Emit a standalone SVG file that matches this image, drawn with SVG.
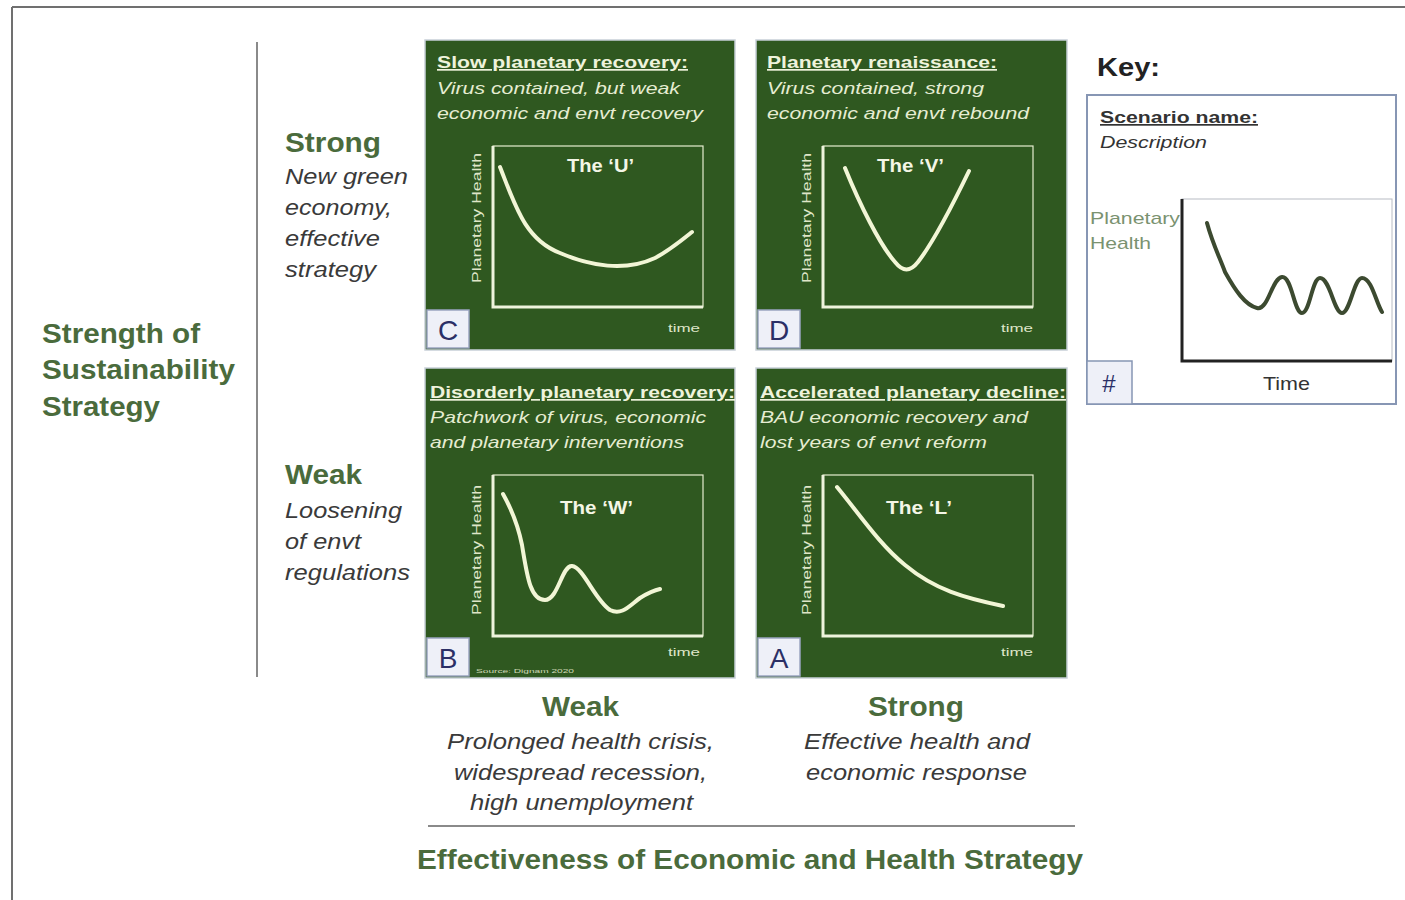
<svg xmlns="http://www.w3.org/2000/svg" width="1405" height="900" viewBox="0 0 1405 900">
<style>
.panel{fill:#2f5820;stroke:#c8d0d8;stroke-width:1.5}
.ttl{font-family:"Liberation Sans",Arial,sans-serif;font-weight:bold;font-size:17px;fill:#eef3dc;text-decoration:underline}
.desc{font-family:"Liberation Sans",Arial,sans-serif;font-style:italic;font-size:17px;fill:#e6edd2}
.chart{fill:none;stroke:#e6edd0;stroke-width:1.2}
.axis{fill:none;stroke:#eef3dc;stroke-width:3}
.curve{fill:none;stroke:#f2f6d6;stroke-width:4;stroke-linecap:round;stroke-linejoin:round}
.shape{font-family:"Liberation Sans",Arial,sans-serif;font-weight:bold;font-size:19px;fill:#f4f6e6}
.ylab{font-family:"Liberation Sans",Arial,sans-serif;font-size:13px;fill:#dfe6c8;text-anchor:middle}
.tlab{font-family:"Liberation Sans",Arial,sans-serif;font-size:11px;fill:#dfe6c8}
.lbox{fill:#eef0f8;stroke:#9aa4c0;stroke-width:1.5}
.ltr{font-family:"Liberation Sans",Arial,sans-serif;font-size:28px;fill:#2b2f66;text-anchor:middle}
.head{font-family:"Liberation Sans",Arial,sans-serif;font-weight:bold;font-size:27px;fill:#4a6b3c}
.it{font-family:"Liberation Sans",Arial,sans-serif;font-style:italic;font-size:22px;fill:#3a3a3a}
</style>
<rect x="0" y="0" width="1405" height="900" fill="#ffffff"/>
<g id="frame" fill="none" stroke="#707070" stroke-width="2">
<line x1="12" y1="7" x2="1405" y2="7"/>
<line x1="12" y1="7" x2="12" y2="900"/>
</g>
<g id="y-axis">
<line x1="257" y1="42" x2="257" y2="677" stroke="#8a8a8a" stroke-width="2"/>
<text class="head" x="42" y="343" textLength="158" lengthAdjust="spacingAndGlyphs">Strength of</text>
<text class="head" x="42" y="379" textLength="193" lengthAdjust="spacingAndGlyphs">Sustainability</text>
<text class="head" x="42" y="416" textLength="118" lengthAdjust="spacingAndGlyphs">Strategy</text>
</g>
<g id="y-strong">
<text class="head" x="285" y="152" textLength="96" lengthAdjust="spacingAndGlyphs">Strong</text>
<text class="it" x="285" y="184" textLength="123" lengthAdjust="spacingAndGlyphs">New green</text>
<text class="it" x="285" y="215" textLength="107" lengthAdjust="spacingAndGlyphs">economy,</text>
<text class="it" x="285" y="246" textLength="95" lengthAdjust="spacingAndGlyphs">effective</text>
<text class="it" x="285" y="277" textLength="91" lengthAdjust="spacingAndGlyphs">strategy</text>
</g>
<g id="y-weak">
<text class="head" x="285" y="484" textLength="77" lengthAdjust="spacingAndGlyphs">Weak</text>
<text class="it" x="285" y="518" textLength="117" lengthAdjust="spacingAndGlyphs">Loosening</text>
<text class="it" x="285" y="549" textLength="76" lengthAdjust="spacingAndGlyphs">of envt</text>
<text class="it" x="285" y="580" textLength="125" lengthAdjust="spacingAndGlyphs">regulations</text>
</g>
<g id="panel-C">
<rect class="panel" x="425" y="40" width="310" height="310"/>
<text class="ttl" x="437" y="68" textLength="251" lengthAdjust="spacingAndGlyphs">Slow planetary recovery:</text>
<text class="desc" x="437" y="94" textLength="243" lengthAdjust="spacingAndGlyphs">Virus contained, but weak</text>
<text class="desc" x="437" y="119" textLength="266" lengthAdjust="spacingAndGlyphs">economic and envt recovery</text>
<rect class="chart" x="493" y="146" width="210" height="161"/>
<polyline class="axis" points="493,146 493,307 703,307"/>
<text class="ylab" transform="translate(481,218) rotate(-90)" x="-65" style="text-anchor:start" textLength="130" lengthAdjust="spacingAndGlyphs">Planetary Health</text>
<text class="shape" x="567" y="172" textLength="67" lengthAdjust="spacingAndGlyphs">The ‘U’</text>
<path class="curve" d="M500,167 C515,205 525,240 560,253 C590,266 625,272 655,258 C670,250 682,240 692,232"/>
<text class="tlab" x="668" y="332" textLength="32" lengthAdjust="spacingAndGlyphs">time</text>
<rect class="lbox" x="427" y="310" width="42" height="38"/>
<text class="ltr" x="448" y="340">C</text>
</g>
<g id="panel-D">
<rect class="panel" x="756" y="40" width="311" height="310"/>
<text class="ttl" x="767" y="68" textLength="230" lengthAdjust="spacingAndGlyphs">Planetary renaissance:</text>
<text class="desc" x="767" y="94" textLength="217" lengthAdjust="spacingAndGlyphs">Virus contained, strong</text>
<text class="desc" x="767" y="119" textLength="262" lengthAdjust="spacingAndGlyphs">economic and envt rebound</text>
<rect class="chart" x="823" y="146" width="210" height="161"/>
<polyline class="axis" points="823,146 823,307 1033,307"/>
<text class="ylab" transform="translate(811,218) rotate(-90)" x="-65" style="text-anchor:start" textLength="130" lengthAdjust="spacingAndGlyphs">Planetary Health</text>
<text class="shape" x="877" y="172" textLength="67" lengthAdjust="spacingAndGlyphs">The ‘V’</text>
<path class="curve" d="M845,168 C860,205 880,245 895,262 C903,272 910,272 918,262 C935,240 955,200 969,171"/>
<text class="tlab" x="1001" y="332" textLength="32" lengthAdjust="spacingAndGlyphs">time</text>
<rect class="lbox" x="758" y="310" width="42" height="38"/>
<text class="ltr" x="779" y="340">D</text>
</g>
<g id="panel-B">
<rect class="panel" x="425" y="368" width="310" height="310"/>
<text class="ttl" x="430" y="398" textLength="305" lengthAdjust="spacingAndGlyphs">Disorderly planetary recovery:</text>
<text class="desc" x="430" y="423" textLength="276" lengthAdjust="spacingAndGlyphs">Patchwork of virus, economic</text>
<text class="desc" x="430" y="448" textLength="254" lengthAdjust="spacingAndGlyphs">and planetary interventions</text>
<rect class="chart" x="493" y="475" width="210" height="161"/>
<polyline class="axis" points="493,475 493,636 703,636"/>
<text class="ylab" transform="translate(481,550) rotate(-90)" x="-65" style="text-anchor:start" textLength="130" lengthAdjust="spacingAndGlyphs">Planetary Health</text>
<text class="shape" x="560" y="514" textLength="73" lengthAdjust="spacingAndGlyphs">The ‘W’</text>
<path class="curve" d="M503,494 C512,510 518,525 522,545 C527,575 530,600 545,600 C558,600 562,565 572,566 C583,567 595,600 610,610 C622,616 630,605 640,598 C648,593 655,590 660,589"/>
<text class="tlab" x="668" y="656" textLength="32" lengthAdjust="spacingAndGlyphs">time</text>
<text x="476" y="673" font-family="Liberation Sans,Arial,sans-serif" font-size="6px" fill="#cfd8b8" textLength="98" lengthAdjust="spacingAndGlyphs">Source: Dignam 2020</text>
<rect class="lbox" x="427" y="638" width="42" height="38"/>
<text class="ltr" x="448" y="668">B</text>
</g>
<g id="panel-A">
<rect class="panel" x="756" y="368" width="311" height="310"/>
<text class="ttl" x="760" y="398" textLength="306" lengthAdjust="spacingAndGlyphs">Accelerated planetary decline:</text>
<text class="desc" x="760" y="423" textLength="268" lengthAdjust="spacingAndGlyphs">BAU economic recovery and</text>
<text class="desc" x="760" y="448" textLength="227" lengthAdjust="spacingAndGlyphs">lost years of envt reform</text>
<rect class="chart" x="823" y="475" width="210" height="161"/>
<polyline class="axis" points="823,475 823,636 1033,636"/>
<text class="ylab" transform="translate(811,550) rotate(-90)" x="-65" style="text-anchor:start" textLength="130" lengthAdjust="spacingAndGlyphs">Planetary Health</text>
<text class="shape" x="886" y="514" textLength="66" lengthAdjust="spacingAndGlyphs">The ‘L’</text>
<path class="curve" d="M837,487 C860,515 880,545 905,565 C935,590 965,598 1003,606"/>
<text class="tlab" x="1001" y="656" textLength="32" lengthAdjust="spacingAndGlyphs">time</text>
<rect class="lbox" x="758" y="638" width="42" height="38"/>
<text class="ltr" x="779" y="668">A</text>
</g>
<g id="x-weak">
<text class="head" x="542" y="716" textLength="77" lengthAdjust="spacingAndGlyphs">Weak</text>
<text class="it" x="447" y="749" textLength="267" lengthAdjust="spacingAndGlyphs">Prolonged health crisis,</text>
<text class="it" x="454" y="780" textLength="253" lengthAdjust="spacingAndGlyphs">widespread recession,</text>
<text class="it" x="470" y="810" textLength="223" lengthAdjust="spacingAndGlyphs">high unemployment</text>
</g>
<g id="x-strong">
<text class="head" x="868" y="716" textLength="96" lengthAdjust="spacingAndGlyphs">Strong</text>
<text class="it" x="804" y="749" textLength="226" lengthAdjust="spacingAndGlyphs">Effective health and</text>
<text class="it" x="806" y="780" textLength="221" lengthAdjust="spacingAndGlyphs">economic response</text>
</g>
<g id="x-axis">
<line x1="428" y1="826" x2="1075" y2="826" stroke="#8a8a8a" stroke-width="2"/>
<text class="head" x="417" y="869" font-size="26px" textLength="666" lengthAdjust="spacingAndGlyphs">Effectiveness of Economic and Health Strategy</text>
</g>
<g id="key">
<text x="1097" y="76" font-family="Liberation Sans,Arial,sans-serif" font-weight="bold" font-size="25px" fill="#222" textLength="63" lengthAdjust="spacingAndGlyphs">Key:</text>
<rect x="1087" y="95" width="309" height="309" fill="#ffffff" stroke="#8796b4" stroke-width="2"/>
<text x="1100" y="123" font-family="Liberation Sans,Arial,sans-serif" font-weight="bold" font-size="17px" fill="#333" text-decoration="underline" textLength="158" lengthAdjust="spacingAndGlyphs">Scenario name:</text>
<text x="1100" y="148" font-family="Liberation Sans,Arial,sans-serif" font-style="italic" font-size="17px" fill="#333" textLength="107" lengthAdjust="spacingAndGlyphs">Description</text>
<rect x="1182" y="199" width="210" height="162" fill="none" stroke="#b8bcc4" stroke-width="1"/>
<polyline points="1182,199 1182,361 1392,361" fill="none" stroke="#222" stroke-width="3"/>
<text x="1090" y="224" font-family="Liberation Sans,Arial,sans-serif" font-size="17px" fill="#7a9270" textLength="90" lengthAdjust="spacingAndGlyphs">Planetary</text>
<text x="1090" y="249" font-family="Liberation Sans,Arial,sans-serif" font-size="17px" fill="#7a9270" textLength="61" lengthAdjust="spacingAndGlyphs">Health</text>
<path d="M1207,223 C1213,245 1220,258 1225,272 C1235,290 1245,305 1257,308 C1268,311 1272,278 1282,277 C1292,276 1294,313 1302,313 C1310,313 1312,278 1320,278 C1330,278 1334,313 1342,313 C1350,313 1354,278 1362,278 C1372,278 1376,303 1382,312" fill="none" stroke="#3c4a30" stroke-width="4" stroke-linecap="round"/>
<rect x="1087" y="361" width="45" height="43" fill="#eef0f8" stroke="#8796b4" stroke-width="1.5"/>
<text x="1109" y="392" font-family="Liberation Sans,Arial,sans-serif" font-size="24px" fill="#2b2f66" text-anchor="middle">#</text>
<text x="1263" y="390" font-family="Liberation Sans,Arial,sans-serif" font-size="19px" fill="#333" textLength="47" lengthAdjust="spacingAndGlyphs">Time</text>
</g>
</svg>
